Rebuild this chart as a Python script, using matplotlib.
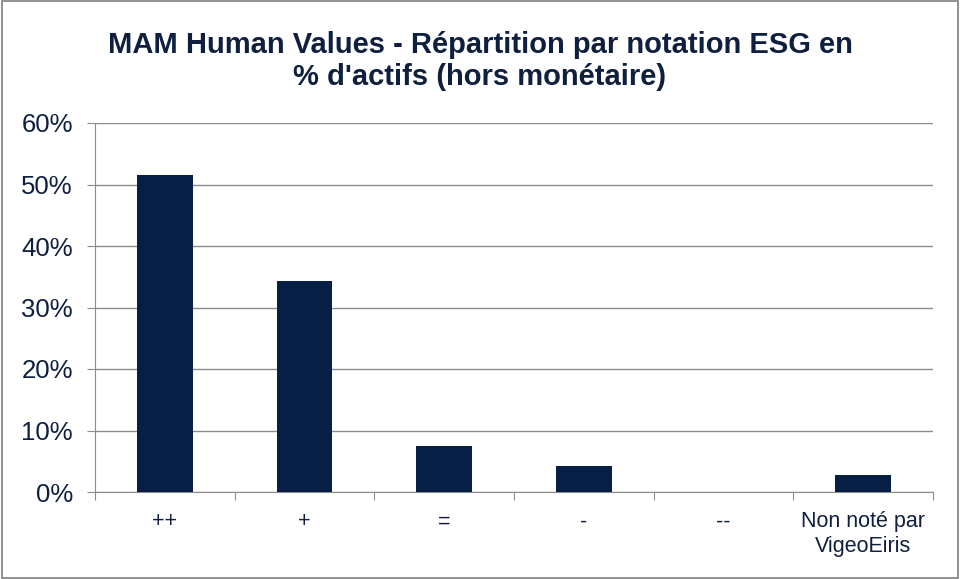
import matplotlib.pyplot as plt
from matplotlib.patches import Rectangle
from matplotlib.ticker import PercentFormatter

plt.rcParams['font.family'] = ['Liberation Sans', 'DejaVu Sans']

# ESG rating breakdown (% of assets)
categories = ['++', '+', '=', '-', '--', 'Non noté par\nVigeoEiris']
values = [51.6, 34.3, 7.5, 4.2, 0.0, 2.7]

navy = '#071F45'
text_col = '#0F1F3F'
grid_col = '#8C8C8C'

fig = plt.figure(figsize=(9.6, 5.79), dpi=100)
ax = fig.add_axes([95 / 960, 1 - 492 / 579, (933 - 95) / 960, (492 - 123) / 579])

x = range(len(categories))
ax.bar(x, values, width=0.4, color=navy, zorder=3)

ax.set_xlim(-0.5, len(categories) - 0.5)
ax.set_ylim(0, 60)
ax.set_yticks(range(0, 61, 10))
ax.yaxis.set_major_formatter(PercentFormatter(decimals=0))
ax.grid(axis='y', color=grid_col, linewidth=1, zorder=0)

# boundary ticks between categories, labels centred on bars
ax.set_xticks([i - 0.5 for i in range(len(categories) + 1)])
ax.set_xticklabels([])
ax.set_xticks(list(x), minor=True)
ax.set_xticklabels(categories, minor=True)
ax.tick_params(axis='x', which='major', length=6, color=grid_col, direction='out')
ax.tick_params(axis='x', which='minor', length=0, pad=14, labelsize=15.5, labelcolor=text_col)
ax.tick_params(axis='y', length=6, color=grid_col, labelsize=18.5, labelcolor=text_col, pad=10)

for side in ['top', 'right']:
    ax.spines[side].set_visible(False)
ax.spines['left'].set_color(grid_col)
ax.spines['bottom'].set_color(grid_col)

fig.text(0.5, 1 - 61 / 579, "MAM Human Values - Répartition par notation ESG en\n% d'actifs (hors monétaire)",
         ha='center', va='center', fontsize=21, fontweight='bold', color=text_col, linespacing=1.2)

fig.patches.append(Rectangle((0.002, 0.002), 0.996, 0.996, transform=fig.transFigure,
                             fill=False, edgecolor='#7F7F7F', linewidth=1.2))

fig.savefig('out.png', dpi=100)
